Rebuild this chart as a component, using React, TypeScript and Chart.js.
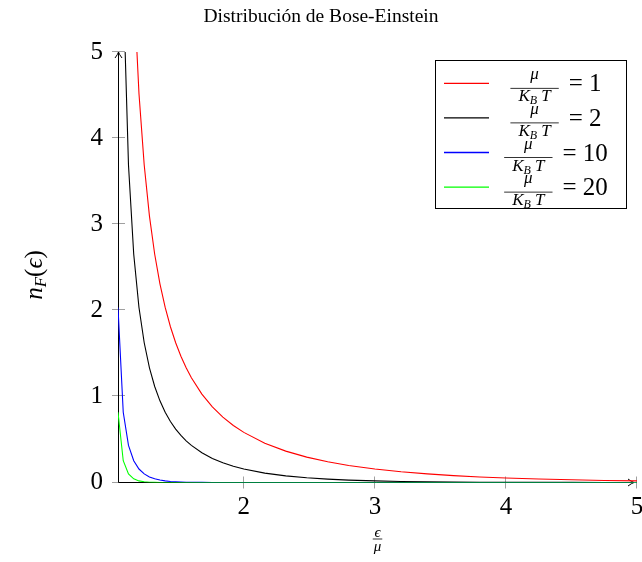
import { useEffect, useRef } from "react";
import { Chart, registerables } from "chart.js";

Chart.register(...registerables);

// ε/μ sample positions
const xs = [
  1.04, 1.08, 1.12, 1.16, 1.2, 1.24, 1.28, 1.32, 1.36, 1.4, 1.44, 1.48, 1.52, 1.56, 1.6,
  1.68, 1.76, 1.84, 1.92, 2.0, 2.16, 2.32, 2.48, 2.64, 2.8, 3.0, 3.2, 3.4, 3.6, 3.8,
  4.0, 4.25, 4.5, 4.75, 5.0,
];
// μ/(K_B T) = 1
const red = [
  24.5, 12.01, 7.843, 5.763, 4.517, 3.687, 3.094, 2.651, 2.308, 2.033, 1.809, 1.623, 1.466, 1.332, 1.216,
  1.027, 0.8785, 0.7597, 0.6626, 0.582, 0.4566, 0.3645, 0.2947, 0.2407, 0.198, 0.1565, 0.1246, 0.0998, 0.0802, 0.0647,
  0.0524, 0.0403, 0.0311, 0.0241, 0.0187,
];
// μ/(K_B T) = 2
const black = [
  12.01, 5.763, 3.687, 2.651, 2.033, 1.623, 1.332, 1.115, 0.9484, 0.816, 0.7087, 0.6205, 0.5467, 0.4843, 0.431,
  0.3453, 0.2799, 0.2291, 0.1888, 0.1565, 0.109, 0.0768, 0.0547, 0.0391, 0.0281, 0.0187, 0.0124, 0.0083, 0.0055, 0.0037,
  0.0025, 0.0015, 0.0009, 0.0006, 0.0003,
];
// μ/(K_B T) = 10
const blue = [
  2.033, 0.816, 0.431, 0.253, 0.1565, 0.0998, 0.0647, 0.0425, 0.0281, 0.0187, 0.0124, 0.0083, 0.0055, 0.0037, 0.0025,
  0.0011, 0.0005, 0.0002, 0.0001, 0, 0, 0, 0, 0, 0, 0, 0, 0, 0, 0,
  0, 0, 0, 0, 0,
];
// μ/(K_B T) = 20
const green = [
  0.816, 0.253, 0.0998, 0.0425, 0.0187, 0.0083, 0.0037, 0.0017, 0.0007, 0.0003, 0.0002, 0.0001, 0, 0, 0,
  0, 0, 0, 0, 0, 0, 0, 0, 0, 0, 0, 0, 0, 0, 0,
  0, 0, 0, 0, 0,
];
const xTicks = [2, 3, 4, 5];
const yTicks = [0, 1, 2, 3, 4, 5];
const legendValues = ["1", "2", "10", "20"];
const seriesColors = ["#ff0000", "#000000", "#0000ff", "#00ff00"];
const titleText = "Distribución de Bose-Einstein";

const SERIF = '"Liberation Serif", "DejaVu Serif", serif';

type Run = { t: string; size: number; italic?: boolean; dy?: number };

function fontStr(size: number, italic?: boolean) {
  return `${italic ? "italic " : ""}${size}px ${SERIF}`;
}
function runsWidth(ctx: CanvasRenderingContext2D, runs: Run[]) {
  let w = 0;
  for (const r of runs) {
    ctx.font = fontStr(r.size, r.italic);
    w += ctx.measureText(r.t).width;
  }
  return w;
}
function drawRuns(ctx: CanvasRenderingContext2D, runs: Run[], x: number, y: number) {
  ctx.textAlign = "left";
  ctx.textBaseline = "alphabetic";
  for (const r of runs) {
    ctx.font = fontStr(r.size, r.italic);
    ctx.fillText(r.t, x, y + (r.dy || 0));
    x += ctx.measureText(r.t).width;
  }
}
function drawFrac(
  ctx: CanvasRenderingContext2D,
  num: Run[],
  den: Run[],
  x: number,
  barY: number,
  numOff: number,
  denOff: number,
  pad: number
) {
  const nw = runsWidth(ctx, num);
  const dw = runsWidth(ctx, den);
  const fw = Math.max(nw, dw) + pad;
  ctx.fillStyle = "#000";
  ctx.fillRect(x, barY - 0.4, fw, 0.8);
  drawRuns(ctx, num, x + (fw - nw) / 2, barY - numOff);
  drawRuns(ctx, den, x + (fw - dw) / 2, barY + denOff);
  return fw;
}

const decor = {
  id: "decor",
  beforeDatasetsDraw(chart: any) {
    const { ctx, chartArea: a, scales } = chart;
    const sx = scales.x;
    const sy = scales.y;
    ctx.save();
    // tick marks (crossing the axis)
    ctx.strokeStyle = "#a0a0a0";
    ctx.lineWidth = 1;
    for (const v of yTicks) {
      const py = Math.round(sy.getPixelForValue(v)) - 0.5;
      ctx.beginPath();
      ctx.moveTo(a.left - 6, py);
      ctx.lineTo(a.left + 7, py);
      ctx.stroke();
    }
    for (const v of xTicks) {
      const px = Math.round(sx.getPixelForValue(v)) - 0.5;
      ctx.beginPath();
      ctx.moveTo(px, a.bottom - 6);
      ctx.lineTo(px, a.bottom + 6);
      ctx.stroke();
    }
    // axis lines with arrow tips
    ctx.strokeStyle = "#000";
    ctx.lineWidth = 1;
    const ax = a.left + 0.5;
    const ay = a.bottom;
    ctx.beginPath();
    ctx.moveTo(ax, ay);
    ctx.lineTo(ax, a.top);
    ctx.moveTo(ax, ay);
    ctx.lineTo(a.right - 3, ay);
    ctx.stroke();
    // y arrow
    ctx.beginPath();
    ctx.moveTo(ax - 3.5, a.top + 6);
    ctx.quadraticCurveTo(ax - 0.8, a.top + 2.5, ax, a.top);
    ctx.quadraticCurveTo(ax + 0.8, a.top + 2.5, ax + 3.5, a.top + 6);
    ctx.stroke();
    // x arrow
    const tx = a.right - 3;
    ctx.beginPath();
    ctx.moveTo(tx - 6, ay - 3.5);
    ctx.quadraticCurveTo(tx - 2.5, ay - 0.8, tx, ay);
    ctx.quadraticCurveTo(tx - 2.5, ay + 0.8, tx - 6, ay + 3.5);
    ctx.stroke();
    ctx.restore();
  },
  afterDraw(chart: any) {
    const { ctx, chartArea: a } = chart;
    ctx.save();
    ctx.fillStyle = "#000";
    // title
    ctx.font = fontStr(19.5);
    ctx.textAlign = "center";
    ctx.textBaseline = "alphabetic";
    ctx.fillText(titleText, 321, 22);

    // y label n_F(ϵ)
    const yl: Run[] = [
      { t: "n", size: 25, italic: true },
      { t: "F", size: 17, italic: true, dy: 4 },
      { t: "(", size: 25 },
      { t: "ϵ", size: 25, italic: true },
      { t: ")", size: 25 },
    ];
    ctx.save();
    ctx.translate(42, 275);
    ctx.rotate(-Math.PI / 2);
    const ylw = runsWidth(ctx, yl);
    drawRuns(ctx, yl, -ylw / 2, 0);
    ctx.restore();

    // x label ϵ/μ
    const xn: Run[] = [{ t: "ϵ", size: 15, italic: true }];
    const xd: Run[] = [{ t: "μ", size: 15, italic: true }];
    const xnw = Math.max(runsWidth(ctx, xn), runsWidth(ctx, xd)) + 2;
    drawFrac(ctx, xn, xd, (a.left + a.right) / 2 - xnw / 2, 539, 2, 12, 2);

    // legend
    const L = { l: 435, t: 60, r: 627, b: 209 };
    ctx.fillStyle = "#fff";
    ctx.fillRect(L.l, L.t, L.r - L.l, L.b - L.t);
    ctx.strokeStyle = "#000";
    ctx.lineWidth = 1;
    ctx.strokeRect(L.l + 0.5, L.t + 0.5, L.r - L.l - 1, L.b - L.t - 1);
    for (let i = 0; i < legendValues.length; i++) {
      const ly = 83.3 + i * 34.6;
      ctx.strokeStyle = seriesColors[i];
      ctx.lineWidth = 1.3;
      ctx.beginPath();
      ctx.moveTo(444, ly);
      ctx.lineTo(489, ly);
      ctx.stroke();
      const num: Run[] = [{ t: "μ", size: 17, italic: true }];
      const den: Run[] = [
        { t: "K", size: 17, italic: true },
        { t: "B", size: 12, italic: true, dy: 3 },
        { t: " T", size: 17, italic: true },
      ];
      const rhs: Run[] = [{ t: "= " + legendValues[i], size: 25 }];
      const pad = 16;
      const fw = Math.max(runsWidth(ctx, num), runsWidth(ctx, den)) + pad;
      const rw = runsWidth(ctx, rhs);
      const gap = 10;
      const start = 556 - (fw + gap + rw) / 2;
      drawFrac(ctx, num, den, start, ly + 5, 9, 13, pad);
      ctx.fillStyle = "#000";
      drawRuns(ctx, rhs, start + fw + gap, ly + 8);
    }
    ctx.restore();
  },
};

export default function App() {
  const ref = useRef<HTMLCanvasElement>(null);
  useEffect(() => {
    const c = ref.current!;
    const mk = (vals: number[], color: string, order: number) => ({
      data: xs.map((x, i) => ({ x, y: vals[i] })),
      borderColor: color,
      backgroundColor: color,
      borderWidth: 1.1,
      pointRadius: 0,
      tension: 0,
      fill: false,
      order,
    });
    const tickFont = { family: SERIF, size: 25 };
    const chart = new Chart(c, {
      type: "line",
      data: {
        datasets: [
          mk(red, seriesColors[0], 3),
          mk(black, seriesColors[1], 2),
          mk(blue, seriesColors[2], 1),
          mk(green, seriesColors[3], 0),
        ],
      },
      options: {
        animation: false,
        responsive: false,
        events: [],
        layout: { padding: { top: 52, left: 0, right: 5, bottom: 0 } },
        plugins: {
          legend: { display: false },
          title: { display: false },
          tooltip: { enabled: false },
        },
        scales: {
          x: {
            type: "linear",
            min: 1.04,
            max: 5,
            grid: { display: false, drawTicks: false, tickLength: 0 },
            border: { display: false },
            ticks: { font: tickFont, color: "#000", padding: 10, maxRotation: 0, autoSkip: false },
            afterBuildTicks: (s: any) => {
              s.ticks = xTicks.map((v) => ({ value: v }));
            },
            afterFit: (s: any) => {
              s.height = 79.5;
              s.paddingLeft = 0;
              s.paddingRight = 0;
            },
          },
          y: {
            type: "linear",
            min: 0,
            max: 5,
            grid: { display: false, drawTicks: false, tickLength: 0 },
            border: { display: false },
            ticks: { font: tickFont, color: "#000", padding: 15, autoSkip: false },
            afterBuildTicks: (s: any) => {
              s.ticks = yTicks.map((v) => ({ value: v }));
            },
            afterFit: (s: any) => {
              s.width = 118;
              s.paddingTop = 0;
              s.paddingBottom = 0;
            },
          },
        },
      } as any,
      plugins: [decor],
    });
    return () => chart.destroy();
  }, []);
  return (
    <canvas
      ref={ref}
      width={642}
      height={562}
      style={{ position: "absolute", left: 0, top: 0, width: 642, height: 562 }}
    />
  );
}
